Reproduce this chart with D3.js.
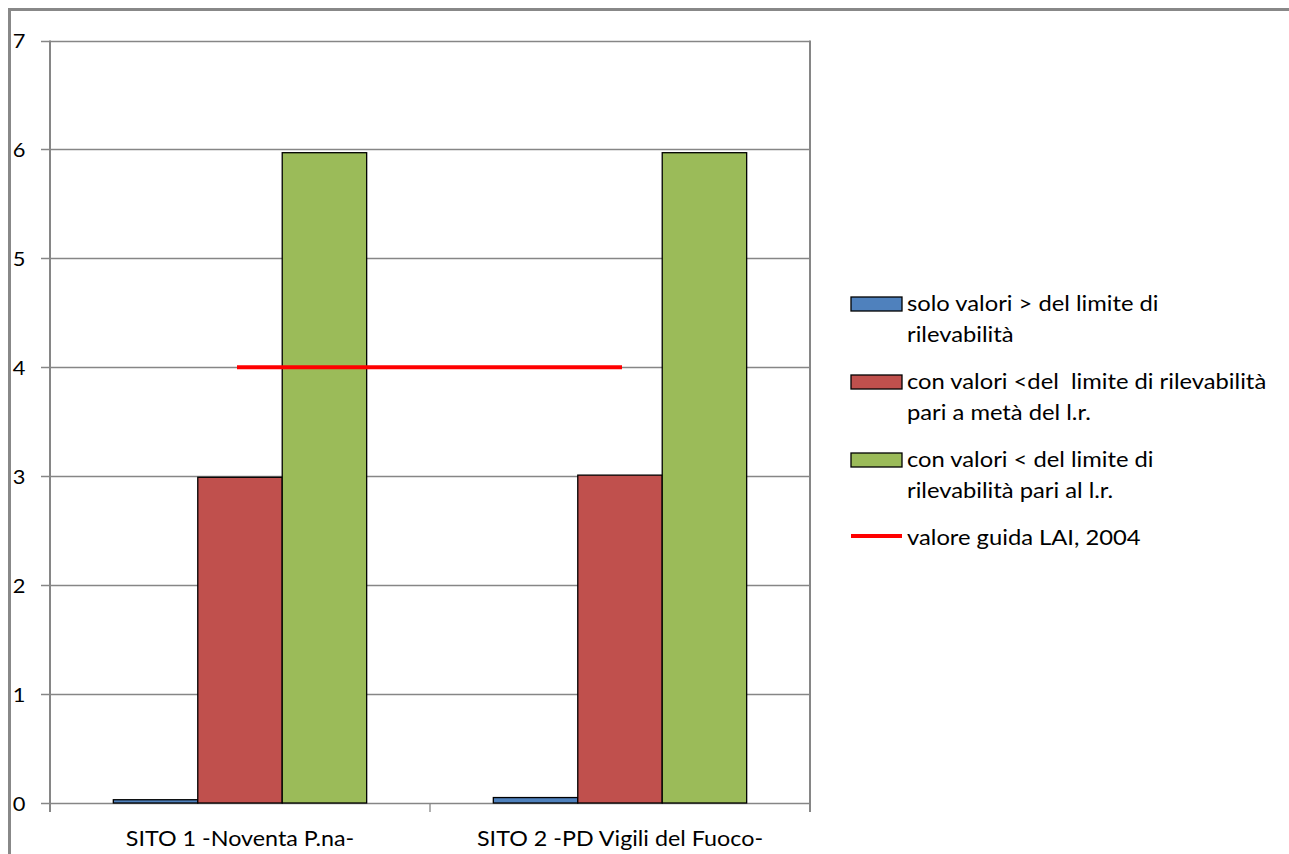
<!DOCTYPE html>
<html>
<head>
<meta charset="utf-8">
<script src="https://cdn.jsdelivr.net/npm/d3@7"></script>
<style>
  body { margin: 0; background: #fff; }
  text { font-family: Lato, "Open Sans", sans-serif; fill: #000; }
</style>
</head>
<body>
<svg width="1289" height="854"></svg>
<script>
// data
var categories = ["SITO 1 -Noventa P.na-", "SITO 2 -PD Vigili del Fuoco-"];
var seriesNames = ["solo", "meta", "al"];
var soloValori = [0.03, 0.05];
var metaLr = [2.99, 3.01];
var alLr = [5.97, 5.97];
var valoreGuida = [4, 4];
var yTicks = [0, 1, 2, 3, 4, 5, 6, 7];
var legendLabels = [
  ["solo valori > del limite di", "rilevabilità"],
  ["con valori <del  limite di rilevabilità", "pari a metà del l.r."],
  ["con valori < del limite di", "rilevabilità pari al l.r."],
  ["valore guida LAI, 2004"]
];
var colors = { solo: "#4f81bd", meta: "#c0504d", al: "#9bbb59", guida: "#ff0000" };

var svg = d3.select("svg");

// outer chart frame
svg.append("rect")
  .attr("x", 9.5).attr("y", 9.5)
  .attr("width", 1400).attr("height", 1000)
  .attr("fill", "none").attr("stroke", "#888").attr("stroke-width", 3);

var plotLeft = 50, plotRight = 810, plotTop = 40.5, plotBottom = 803;

var y = d3.scaleLinear().domain([0, 7]).range([plotBottom, plotTop]);
var x0 = d3.scaleBand().domain(categories).range([plotLeft, plotRight]).padding(0);
var x1 = d3.scaleBand().domain(seriesNames).range([0, x0.bandwidth()])
  .paddingInner(0).paddingOuter(0.75);

// gridlines
svg.append("g").selectAll("line")
  .data(yTicks)
  .enter().append("line")
    .attr("x1", plotLeft - 9).attr("x2", plotRight)
    .attr("y1", function(d) { return Math.round(y(d)) + 0.5; })
    .attr("y2", function(d) { return Math.round(y(d)) + 0.5; })
    .attr("stroke", "#868686").attr("stroke-width", 1.3);

// y tick labels
svg.append("g").selectAll("text")
  .data(yTicks)
  .enter().append("text")
    .attr("transform", function(d) { return "translate(25.5," + (y(d) + 7.5) + ") scale(1.15,1)"; })
    .attr("text-anchor", "end")
    .style("font-size", "19px")
    .text(function(d) { return d; });

// axis lines
svg.append("line")
  .attr("x1", plotLeft).attr("x2", plotLeft).attr("y1", plotTop).attr("y2", plotBottom + 9)
  .attr("stroke", "#868686").attr("stroke-width", 2);
svg.append("line")
  .attr("x1", plotRight).attr("x2", plotRight).attr("y1", plotTop).attr("y2", plotBottom + 9)
  .attr("stroke", "#868686").attr("stroke-width", 2);
svg.append("line")
  .attr("x1", x0(categories[1])).attr("x2", x0(categories[1]))
  .attr("y1", plotBottom).attr("y2", plotBottom + 9)
  .attr("stroke", "#868686").attr("stroke-width", 1.3);

// bars
var rows = categories.map(function(c, i) {
  return { cat: c, values: [
    { key: "solo", v: soloValori[i] },
    { key: "meta", v: metaLr[i] },
    { key: "al", v: alLr[i] }
  ] };
});

var group = svg.append("g").selectAll("g")
  .data(rows)
  .enter().append("g")
    .attr("transform", function(d) { return "translate(" + x0(d.cat) + ",0)"; });

group.selectAll("rect")
  .data(function(d) { return d.values; })
  .enter().append("rect")
    .attr("x", function(d) { return x1(d.key); })
    .attr("y", function(d) { return y(d.v); })
    .attr("width", x1.bandwidth())
    .attr("height", function(d) { return plotBottom - y(d.v); })
    .attr("fill", function(d) { return colors[d.key]; })
    .attr("stroke", "#000").attr("stroke-width", 1.3);

// guide line, from centre to centre of the two sites
var line = d3.line()
  .x(function(d, i) { return x0(categories[i]) + x0.bandwidth() / 2 + (i === 0 ? -3 : 2); })
  .y(function(d) { return y(d); });

svg.append("path")
  .datum(valoreGuida)
  .attr("d", line)
  .attr("fill", "none")
  .attr("stroke", colors.guida)
  .attr("stroke-width", 4);

// category labels
svg.append("g").selectAll("text")
  .data(categories)
  .enter().append("text")
    .attr("transform", function(d) {
      return "translate(" + (x0(d) + x0.bandwidth() / 2) + ",846) scale(1.06,1)";
    })
    .attr("text-anchor", "middle")
    .style("font-size", "22px")
    .text(function(d) { return d; });

// legend
var legendY = [297, 375, 453, 531];
var legendKeys = ["solo", "meta", "al", "guida"];

var legend = svg.append("g").selectAll("g")
  .data(legendKeys)
  .enter().append("g")
    .attr("transform", function(d, i) { return "translate(851," + legendY[i] + ")"; });

legend.each(function(d, i) {
  var g = d3.select(this);
  if (d === "guida") {
    g.append("line")
      .attr("x1", 0).attr("x2", 51).attr("y1", 5).attr("y2", 5)
      .attr("stroke", colors.guida).attr("stroke-width", 4);
  } else {
    g.append("rect")
      .attr("x", 0).attr("y", 0).attr("width", 51).attr("height", 14)
      .attr("fill", colors[d]).attr("stroke", "#000").attr("stroke-width", 1.3);
  }
  var t = g.append("text")
    .attr("transform", "translate(56,14) scale(1.08,1)")
    .style("font-size", "22px")
    .style("white-space", "pre");
  t.selectAll("tspan")
    .data(legendLabels[i])
    .enter().append("tspan")
      .attr("x", 0)
      .attr("dy", function(l, j) { return j === 0 ? 0 : 31; })
      .text(function(l) { return l; });
});
</script>
</body>
</html>
